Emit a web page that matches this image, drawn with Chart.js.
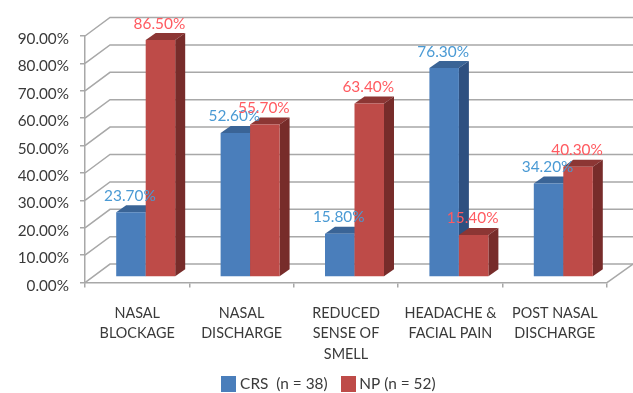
<!DOCTYPE html>
<html>
<head>
<meta charset="utf-8">
<style>
  html, body { margin: 0; padding: 0; background: #fff; }
  #wrap { width: 633px; height: 393px; }
</style>
<script src="https://cdn.jsdelivr.net/npm/chart.js@4/dist/chart.umd.min.js"></script>
</head>
<body>
<div id="wrap"><canvas id="chart" width="633" height="393"></canvas></div>
<script>
const categories = [
  ['NASAL', 'BLOCKAGE'],
  ['NASAL', 'DISCHARGE'],
  ['REDUCED', 'SENSE OF', 'SMELL'],
  ['HEADACHE &', 'FACIAL PAIN'],
  ['POST NASAL', 'DISCHARGE']
];
const crsValues = [23.7, 52.6, 15.8, 76.3, 34.2];
const npValues = [86.5, 55.7, 63.4, 15.4, 40.3];
const seriesNames = ['CRS  (n = 38)', 'NP (n = 52)'];

const FONT = 'Lato';
const TEXT = '#3a3a3a';
const GRID = '#a8a8a8';

// Per-series face colours for the extruded bars and value labels
const faces = [
  { front: '#4a7ebb', top: '#3a6496', side: '#2e5080', label: '#4a9ad4' },
  { front: '#be4b48', top: '#8c3634', side: '#772c2a', label: '#ff5a60' }
];

// Depth of the chart box and the resting offset of the bars inside it
const wall = { dx: 25, dy: -18.5 };
const barShift = { dx: 8.5, dy: -5.5 };
const barDepth = { dx: 10, dy: -7 };

function swatch(color) {
  const c = document.createElement('canvas');
  c.width = 15; c.height = 16;
  const g = c.getContext('2d');
  g.fillStyle = color;
  g.fillRect(0, 0, 15, 16);
  return c;
}

function drawBox(chart) {
  const { ctx, scales: { x, y } } = chart;
  ctx.save();
  ctx.strokeStyle = GRID;
  ctx.lineWidth = 1.5;
  y.ticks.forEach(t => {
    const py = y.getPixelForValue(t.value);
    ctx.beginPath();
    ctx.moveTo(x.left, py);
    ctx.lineTo(x.left + wall.dx, py + wall.dy);
    ctx.lineTo(x.right + wall.dx + 1, py + wall.dy);
    ctx.stroke();
  });
  const floor = y.getPixelForValue(0);
  ctx.beginPath();
  ctx.moveTo(x.right, floor);
  ctx.lineTo(x.right + wall.dx + 1, floor + wall.dy);
  ctx.stroke();
  ctx.restore();
}

function drawSeries(chart, index) {
  const { ctx } = chart;
  const f = faces[index];
  const meta = chart.getDatasetMeta(index);
  ctx.save();
  ctx.translate(barShift.dx, barShift.dy);
  meta.data.forEach(b => {
    const l = b.x - b.width / 2, r = b.x + b.width / 2;
    ctx.fillStyle = f.top;
    ctx.beginPath();
    ctx.moveTo(l, b.y);
    ctx.lineTo(l + barDepth.dx, b.y + barDepth.dy);
    ctx.lineTo(r + barDepth.dx, b.y + barDepth.dy);
    ctx.lineTo(r, b.y);
    ctx.closePath();
    ctx.fill();
    ctx.fillStyle = f.side;
    ctx.beginPath();
    ctx.moveTo(r, b.y);
    ctx.lineTo(r + barDepth.dx, b.y + barDepth.dy);
    ctx.lineTo(r + barDepth.dx, b.base + barDepth.dy);
    ctx.lineTo(r, b.base);
    ctx.closePath();
    ctx.fill();
  });
  meta.controller.draw();
  ctx.restore();
}

const box3d = {
  id: 'box3d',
  afterLayout(chart) {
    // Centre the legend under the plot box, depth included
    const lg = chart.legend;
    lg.left = 0; lg.right = 661; lg.width = 661;
    lg.top = 359;
  },
  beforeDatasetsDraw(chart) {
    drawBox(chart);
    // Later series stand in front of earlier ones in each group
    chart.data.datasets.forEach((ds, i) => drawSeries(chart, i));
  },
  beforeDatasetDraw() {
    return false;
  },
  afterDatasetsDraw(chart) {
    const { ctx } = chart;
    ctx.save();
    ctx.font = '15.4px ' + FONT;
    ctx.textAlign = 'center';
    ctx.textBaseline = 'middle';
    chart.data.datasets.forEach((ds, i) => {
      ctx.fillStyle = faces[i].label;
      chart.getDatasetMeta(i).data.forEach((b, j) => {
        ctx.fillText(ds.data[j].toFixed(2) + '%', b.x + barShift.dx - 1, b.y + barShift.dy - 16.5);
      });
    });
    ctx.restore();
  }
};

new Chart(document.getElementById('chart'), {
  type: 'bar',
  data: {
    labels: categories,
    datasets: [
      { label: seriesNames[0], data: crsValues, backgroundColor: faces[0].front },
      { label: seriesNames[1], data: npValues, backgroundColor: faces[1].front }
    ]
  },
  options: {
    responsive: false,
    animation: false,
    // The legend is repositioned after layout, so its reserved band may overlap the axis band
    layout: { padding: { left: 0, right: 26, top: 36, bottom: -14 } },
    datasets: { bar: { barPercentage: 1, categoryPercentage: 0.565 } },
    scales: {
      x: {
        afterFit(s) { s.height = 82; },
        border: { color: GRID, width: 1.5 },
        grid: { drawOnChartArea: false, color: GRID, tickLength: 5, lineWidth: 1.5 },
        ticks: {
          color: TEXT, maxRotation: 0, autoSkip: false, padding: 15,
          font: { family: FONT, size: 14.4, lineHeight: 1.43 }
        }
      },
      y: {
        min: 0, max: 90,
        afterFit(s) { s.width = 85; },
        border: { color: GRID, width: 1.5 },
        grid: { drawOnChartArea: false, color: GRID, tickLength: 5, lineWidth: 1.5 },
        ticks: {
          stepSize: 10, color: TEXT, padding: 11, labelOffset: 3,
          font: { family: FONT, size: 15.3 },
          callback: v => v.toFixed(2) + '%'
        }
      }
    },
    plugins: {
      tooltip: { enabled: false },
      legend: {
        position: 'bottom',
        labels: {
          color: TEXT, padding: 17, usePointStyle: true, pointStyleWidth: 7,
          font: { family: FONT, size: 15.4 },
          generateLabels(chart) {
            const items = Chart.defaults.plugins.legend.labels.generateLabels(chart);
            items.forEach((it, i) => { it.pointStyle = swatch(faces[i].front); });
            return items;
          }
        }
      }
    }
  },
  plugins: [box3d]
});
</script>
</body>
</html>
